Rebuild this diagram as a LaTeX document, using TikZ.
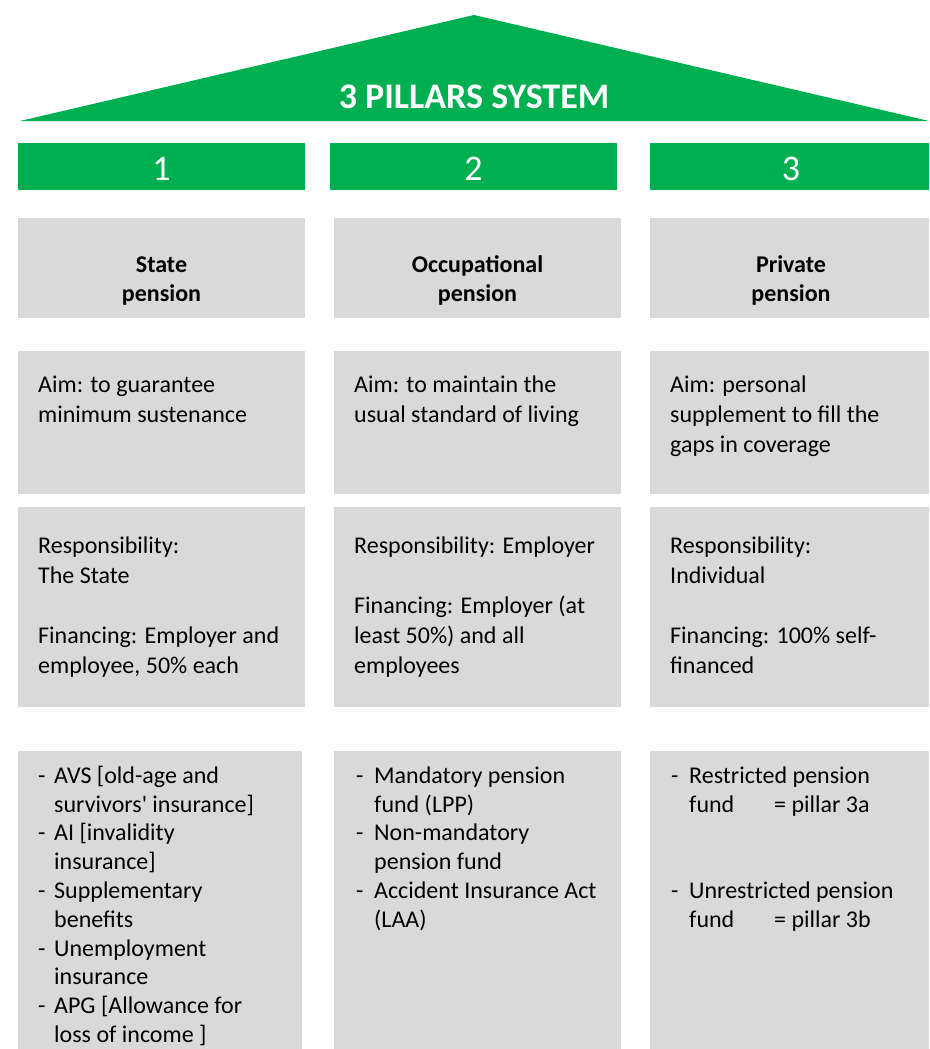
\documentclass[tikz,border=0pt]{standalone}
\usepackage{fontspec}
\setmainfont{Carlito}[Ligatures=TeXOff]
\definecolor{pgreen}{HTML}{00B050}
\definecolor{pgray}{HTML}{D9D9D9}
\begin{document}
\begin{tikzpicture}[x=1pt,y=-1pt,
  cell/.style={fill=pgray, draw=none},
  bar/.style={fill=pgreen, draw=none},
  head/.style={anchor=north, inner sep=0pt, align=center, font=\fontsize{24}{28.8}\selectfont\bfseries},
  txt/.style={anchor=north west, inner sep=0pt, align=left, font=\fontsize{24}{30}\selectfont},
  lst/.style={anchor=north west, inner sep=0pt, align=left, font=\fontsize{24}{28.8}\selectfont},
  num/.style={anchor=base, inner sep=0pt, text=white, font=\fontsize{36}{40}\selectfont},
  title/.style={anchor=base, inner sep=0pt, text=white, font=\fontsize{36}{40}\selectfont\bfseries}
]
\useasboundingbox (0,0) rectangle (929,1049);
% roof
\fill[pgreen] (20,121) -- (474,15) -- (929,121) -- cycle;
\node[title] (title) at (474,108) {3 PILLARS SYSTEM};
% number bars
\fill[bar] (18,143) rectangle (305,190);
\fill[bar] (330,143) rectangle (617,190);
\fill[bar] (650,143) rectangle (929,190);
\node[num] (n1) at (161.5,180) {1};
\node[num] (n2) at (473.5,180) {2};
\node[num] (n3) at (791,180) {3};
% grey cells
\foreach \xa/\xb in {18/305,334/621,650/929}{
  \fill[cell] (\xa,218) rectangle (\xb,318);
  \fill[cell] (\xa,351) rectangle (\xb,494);
  \fill[cell] (\xa,507) rectangle (\xb,707);
}
\fill[cell] (18,751) rectangle (302,1049);
\fill[cell] (334,751) rectangle (621,1049);
\fill[cell] (650,751) rectangle (929,1049);
% headings
\node[head] (h1) at (161.5,252) {\strut State\\pension};
\node[head] (h2) at (477.5,252) {\strut Occupational\\pension};
\node[head] (h3) at (791,252) {\strut Private\\pension};
% aims
\node[txt] (a1) at (38,371) {\strut Aim: to guarantee\\minimum sustenance};
\node[txt] (a2) at (354,371) {\strut Aim: to maintain the\\usual standard of living};
\node[txt] (a3) at (670,371) {\strut Aim: personal\\supplement to fill the\\gaps in coverage};
% responsibility
\node[txt] (r1) at (38,532) {\strut Responsibility:\\The State\\[30pt]Financing: Employer and\\employee, 50\% each};
\node[txt] (r2) at (354,532) {\strut Responsibility: Employer\\[30pt]Financing: Employer (at\\least 50\%) and all\\employees};
\node[txt] (r3) at (670,532) {\strut Responsibility:\\Individual\\[30pt]Financing: 100\% self-\\financed};
% lists
\node[lst] (l1) at (38,763) {\strut\makebox[16pt][l]{-}AVS [old-age and\\\hspace*{16pt}survivors' insurance]\\
  \makebox[16pt][l]{-}AI [invalidity\\\hspace*{16pt}insurance]\\
  \makebox[16pt][l]{-}Supplementary\\\hspace*{16pt}benefits\\
  \makebox[16pt][l]{-}Unemployment\\\hspace*{16pt}insurance\\
  \makebox[16pt][l]{-}APG [Allowance for\\\hspace*{16pt}loss of income ]};
\node[lst] (l2) at (356,763) {\strut\makebox[18pt][l]{-}Mandatory pension\\\hspace*{18pt}fund (LPP)\\
  \makebox[18pt][l]{-}Non-mandatory\\\hspace*{18pt}pension fund\\
  \makebox[18pt][l]{-}Accident Insurance Act\\\hspace*{18pt}(LAA)};
\node[lst] (l3) at (671,763) {\strut\makebox[18pt][l]{-}Restricted pension\\\hspace*{18pt}\makebox[85pt][l]{fund}= pillar 3a\\[57.6pt]
  \makebox[18pt][l]{-}Unrestricted pension\\\hspace*{18pt}\makebox[85pt][l]{fund}= pillar 3b};
\end{tikzpicture}
\end{document}
